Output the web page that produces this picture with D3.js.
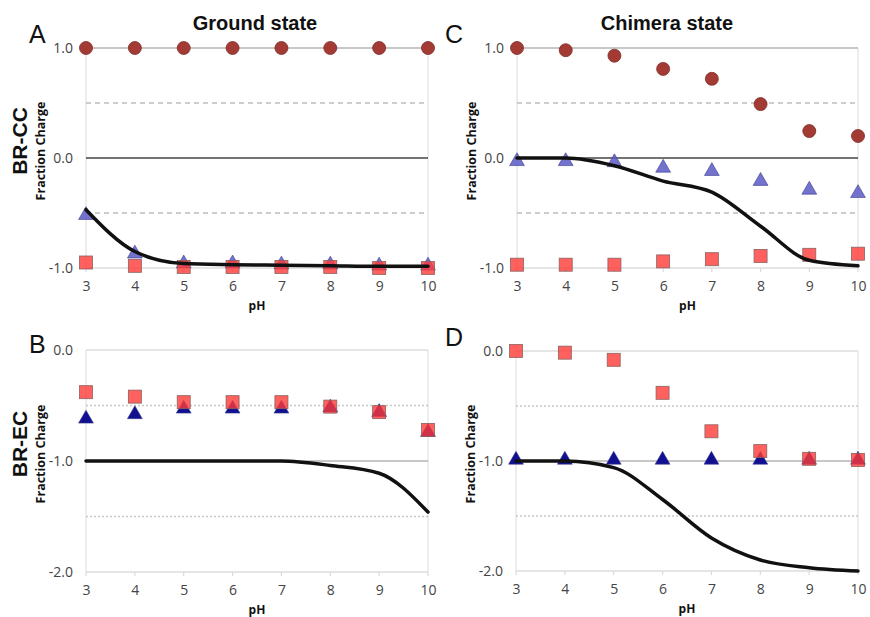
<!DOCTYPE html>
<html>
<head>
<meta charset="utf-8">
<script src="https://cdn.jsdelivr.net/npm/d3@7"></script>
<style>
  body { margin: 0; background: #fff; }
  svg { display: block; }
</style>
</head>
<body>
<svg id="chart" width="870" height="617"></svg>
<script>
// pH values shared by all four panels
const pH = [3, 4, 5, 6, 7, 8, 9, 10];
const xTicks = [3, 4, 5, 6, 7, 8, 9, 10];

// A: ground state, BR-CC
const groundCCCircle = [1.0, 1.0, 1.0, 1.0, 1.0, 1.0, 1.0, 1.0];
const groundCCTriangle = [-0.52, -0.87, -0.96, -0.96, -0.97, -0.97, -0.98, -0.98];
const groundCCSquare = [-0.95, -0.98, -0.99, -0.99, -0.99, -0.99, -1.0, -1.0];
const groundCCLine = [-0.47, -0.85, -0.96, -0.97, -0.975, -0.98, -0.985, -0.985];

// C: chimera state, BR-CC
const chimeraCCCircle = [1.0, 0.98, 0.93, 0.81, 0.72, 0.49, 0.245, 0.2];
const chimeraCCTriangle = [-0.03, -0.03, -0.04, -0.09, -0.12, -0.21, -0.29, -0.32];
const chimeraCCSquare = [-0.97, -0.97, -0.97, -0.94, -0.92, -0.89, -0.88, -0.87];
const chimeraCCLine = [0.0, 0.0, -0.07, -0.21, -0.31, -0.62, -0.93, -0.98];

// B: ground state, BR-EC
const groundECTriangle = [-0.62, -0.58, -0.53, -0.53, -0.53, -0.52, -0.56, -0.74];
const groundECSquare = [-0.38, -0.42, -0.47, -0.47, -0.47, -0.51, -0.56, -0.72];
const groundECLine = [-1.0, -1.0, -1.0, -1.0, -1.0, -1.04, -1.11, -1.46];

// D: chimera state, BR-EC
const chimeraECTriangle = [-0.99, -0.99, -0.99, -0.99, -0.99, -0.99, -0.99, -0.99];
const chimeraECSquare = [0.0, -0.015, -0.08, -0.38, -0.73, -0.91, -0.98, -0.99];
const chimeraECLine = [-1.0, -1.0, -1.06, -1.35, -1.7, -1.9, -1.97, -2.0];

const ccTicks = [1.0, 0.0, -1.0];
const ecTicks = [0.0, -1.0, -2.0];

const ccGrid = [[1, "#b4b4b4", null], [0.5, "#bdbdbd", "5,4"], [0, "#444", null], [-0.5, "#bdbdbd", "5,4"], [-1, "#dcdcdc", null]];
const ecGrid = [[0, "#dcdcdc", null], [-0.5, "#c8c8c8", "2,2"], [-1, "#b4b4b4", null], [-1.5, "#c8c8c8", "2,2"], [-2, "#dcdcdc", null]];

const panels = [
  { x0: 86, x1: 428, y0: 268, y1: 48, domain: [-1, 1], ticks: ccTicks, grid: ccGrid,
    circle: groundCCCircle, triangle: groundCCTriangle, square: groundCCSquare, line: groundCCLine,
    triFill: "#5a5ac4", triOpacity: 0.85 },
  { x0: 517, x1: 858, y0: 268, y1: 48, domain: [-1, 1], ticks: ccTicks, grid: ccGrid,
    circle: chimeraCCCircle, triangle: chimeraCCTriangle, square: chimeraCCSquare, line: chimeraCCLine,
    triFill: "#5a5ac4", triOpacity: 0.85 },
  { x0: 86, x1: 428, y0: 572, y1: 350, domain: [-2, 0], ticks: ecTicks, grid: ecGrid,
    circle: null, triangle: groundECTriangle, square: groundECSquare, line: groundECLine,
    triFill: "#101090", triOpacity: 1 },
  { x0: 516, x1: 858, y0: 571, y1: 351, domain: [-2, 0], ticks: ecTicks, grid: ecGrid,
    circle: null, triangle: chimeraECTriangle, square: chimeraECSquare, line: chimeraECLine,
    triFill: "#101090", triOpacity: 1 }
];

const svg = d3.select("#chart");
// plain hyphen instead of unicode minus, like the original
const fmt = d => d3.format(".1f")(d).replace("\u2212", "-");

panels.forEach(p => {
  const x = d3.scaleLinear().domain([3, 10]).range([p.x0, p.x1]);
  const y = d3.scaleLinear().domain(p.domain).range([p.y0, p.y1]);
  const g = svg.append("g");
  const bottom = y(p.domain[0]);

  // side borders
  [3, 10].forEach(v => {
    g.append("line")
      .attr("x1", x(v)).attr("x2", x(v))
      .attr("y1", y(p.domain[1])).attr("y2", bottom)
      .attr("stroke", "#dcdcdc").attr("stroke-width", 1);
  });

  // small tick marks under the bottom line
  g.selectAll(".xt").data(xTicks).join("line")
    .attr("x1", d => x(d)).attr("x2", d => x(d))
    .attr("y1", bottom).attr("y2", bottom + 4)
    .attr("stroke", "#d4d4d4").attr("stroke-width", 1);

  // horizontal gridlines
  p.grid.forEach(([v, color, dash]) => {
    g.append("line")
      .attr("x1", x(3)).attr("x2", x(10))
      .attr("y1", y(v)).attr("y2", y(v))
      .attr("stroke", color).attr("stroke-width", 1.3)
      .attr("stroke-dasharray", dash);
  });

  // y axis labels
  const yAxis = d3.axisLeft(y).tickValues(p.ticks).tickSize(0).tickPadding(13).tickFormat(fmt);
  const ya = g.append("g").attr("transform", `translate(${x(3)},0)`).call(yAxis);
  ya.select(".domain").remove();
  ya.selectAll("text").attr("font-family", "Open Sans, sans-serif").attr("font-size", 14).attr("fill", "#444");

  // x axis labels
  const xAxis = d3.axisBottom(x).tickValues(xTicks).tickSize(0).tickPadding(13).tickFormat(d3.format("d"));
  const xa = g.append("g").attr("transform", `translate(0,${bottom})`).call(xAxis);
  xa.select(".domain").remove();
  xa.selectAll("text").attr("font-family", "Open Sans, sans-serif").attr("font-size", 14).attr("fill", "#444");

  g.append("text")
    .attr("x", (p.x0 + p.x1) / 2).attr("y", bottom + 42)
    .attr("text-anchor", "middle")
    .attr("font-family", "Open Sans, sans-serif").attr("font-weight", "bold").attr("font-size", 12)
    .attr("fill", "#111").text("pH");

  g.append("text")
    .attr("transform", `translate(${p.x0 - 41},${(p.y0 + p.y1) / 2 - 7}) rotate(-90)`)
    .attr("text-anchor", "middle")
    .attr("font-family", "Open Sans, sans-serif").attr("font-weight", "bold").attr("font-size", 12.5)
    .attr("fill", "#111").text("Fraction Charge");

  // triangles first, squares on top
  g.selectAll(".tri").data(pH).join("path")
    .attr("transform", (d, i) => `translate(${x(d)},${y(p.triangle[i])})`)
    .attr("d", d3.symbol().type(d3.symbolTriangle).size(95))
    .attr("fill", p.triFill).attr("fill-opacity", p.triOpacity)
    .attr("stroke", "#3a3a90").attr("stroke-width", 0.6);

  g.selectAll(".sq").data(pH).join("rect")
    .attr("x", d => x(d) - 6.5).attr("y", (d, i) => y(p.square[i]) - 6.5)
    .attr("width", 13).attr("height", 13)
    .attr("fill", "#ff3b36").attr("fill-opacity", 0.8)
    .attr("stroke", "#8a6060").attr("stroke-width", 0.8);

  if (p.circle) {
    g.selectAll(".circ").data(pH).join("circle")
      .attr("cx", d => x(d)).attr("cy", (d, i) => y(p.circle[i]))
      .attr("r", 6.5)
      .attr("fill", "#a33b34").attr("stroke", "#7d2c27").attr("stroke-width", 0.8);
  }

  const line = d3.line()
    .x(d => x(d))
    .y((d, i) => y(p.line[i]))
    .curve(d3.curveMonotoneX);
  g.append("path").datum(pH)
    .attr("d", line)
    .attr("fill", "none").attr("stroke", "#111").attr("stroke-width", 3.5)
    .attr("stroke-linecap", "round");
});

// panel letters
[["A", 29, 43], ["C", 445, 43], ["B", 29, 353], ["D", 445, 346]].forEach(([t, lx, ly]) => {
  svg.append("text").attr("x", lx).attr("y", ly)
    .attr("font-family", "Liberation Sans, Arial, sans-serif").attr("font-size", 25)
    .attr("fill", "#111").text(t);
});

// column titles
[["Ground state", 255], ["Chimera state", 667]].forEach(([t, cx]) => {
  svg.append("text").attr("x", cx).attr("y", 30)
    .attr("text-anchor", "middle")
    .attr("font-family", "Liberation Sans, Arial, sans-serif").attr("font-weight", "bold").attr("font-size", 20)
    .attr("fill", "#111").text(t);
});

// row titles
[["BR-CC", 141], ["BR-EC", 444]].forEach(([t, cy]) => {
  svg.append("text")
    .attr("transform", `translate(27,${cy}) rotate(-90)`)
    .attr("text-anchor", "middle")
    .attr("font-family", "Liberation Sans, Arial, sans-serif").attr("font-weight", "bold").attr("font-size", 21)
    .attr("fill", "#111").text(t);
});
</script>
</body>
</html>
